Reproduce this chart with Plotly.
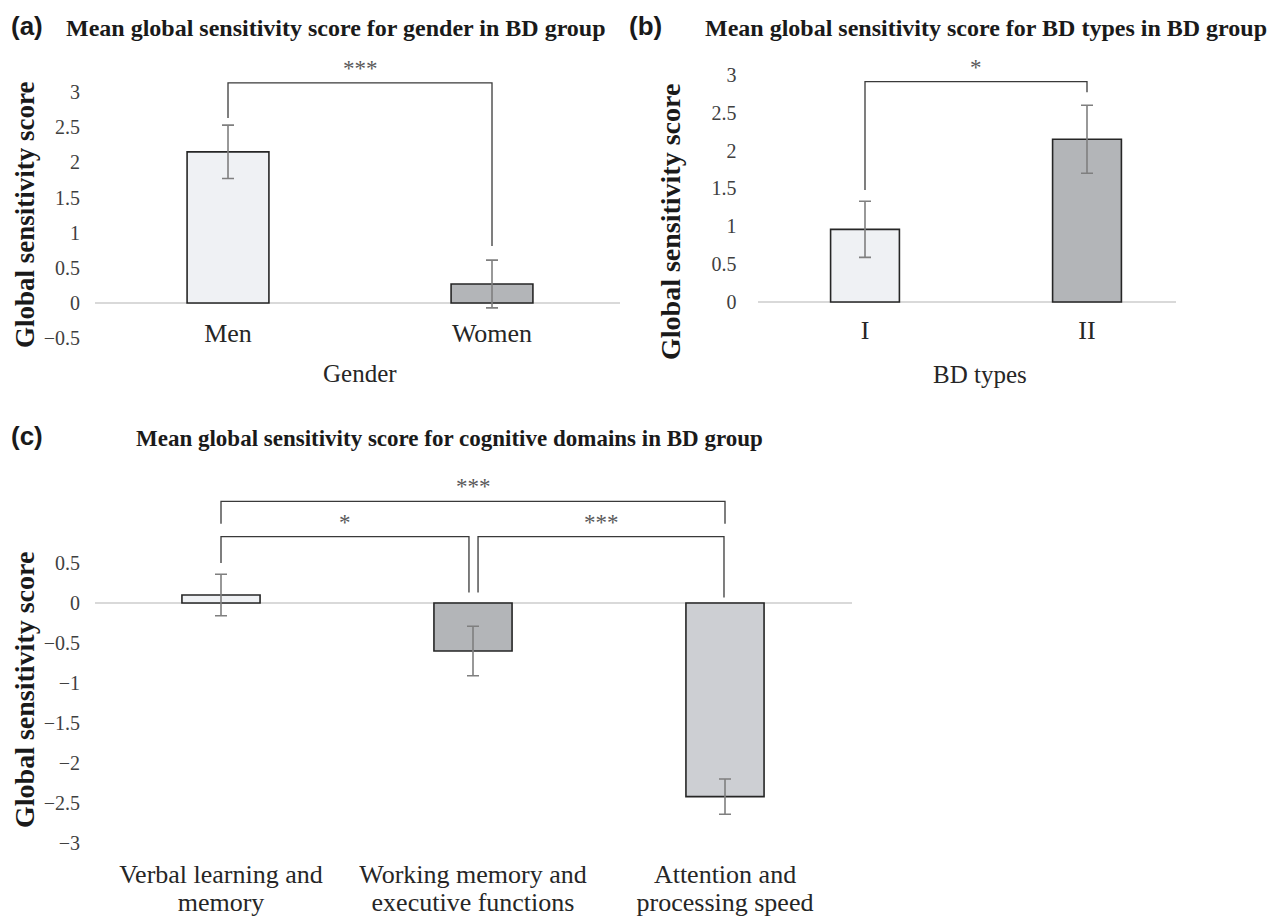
import plotly.graph_objects as go

W, H = 1276, 920

# ---------------- data ----------------
gender_cats = ["Men", "Women"]
gender_mean = [2.15, 0.27]
gender_err = [0.38, 0.34]

type_cats = ["I", "II"]
type_mean = [0.96, 2.15]
type_err = [0.37, 0.45]

domain_cats = ["Verbal learning and<br>memory",
               "Working memory and<br>executive functions",
               "Attention and<br>processing speed"]
domain_mean = [0.10, -0.60, -2.42]
domain_err = [0.26, 0.31, 0.22]

# significance brackets: (x_left, x_right, y_top, y_left_leg_end, y_right_leg_end, label)
brackets_a = [(0, 1, 3.13, 2.63, 0.81, "***")]
brackets_b = [(0, 1, 2.91, 1.48, 2.77, "*")]
brackets_c = [(0, 2, 1.27, 0.99, 0.99, "***"),
              (0, 0.984, 0.83, 0.50, 0.13, "*"),
              (1.02, 1.996, 0.83, 0.13, 0.07, "***")]

y_ticks_a = [-0.5, 0, 0.5, 1, 1.5, 2, 2.5, 3]
y_ticks_b = [0, 0.5, 1, 1.5, 2, 2.5, 3]
y_ticks_c = [-3, -2.5, -2, -1.5, -1, -0.5, 0, 0.5]

# ---------------- styling ----------------
LIGHT = "#eff1f4"
DARK = "#b3b5b8"
MID = "#cdcfd3"
SERIF = "Liberation Serif, Times New Roman, serif"
SANS = "Liberation Sans, Arial, sans-serif"
TXT = "#262626"
TICK = "#404040"


def fx(px):
    return px / W


def fy(py):
    return 1 - py / H


def xdom(c0_px, ppu, lo, hi):
    return [fx(c0_px + lo * ppu), fx(c0_px + hi * ppu)]


def ydom(zero_px, ppu, lo, hi):
    return [fy(zero_px - lo * ppu), fy(zero_px - hi * ppu)]


fig = go.Figure()

panels = [
    dict(cats=gender_cats, mean=gender_mean, err=gender_err, colors=[LIGHT, DARK],
         br=brackets_a, xa="x", ya="y"),
    dict(cats=type_cats, mean=type_mean, err=type_err, colors=[LIGHT, DARK],
         br=brackets_b, xa="x2", ya="y2"),
    dict(cats=domain_cats, mean=domain_mean, err=domain_err, colors=[LIGHT, DARK, MID],
         br=brackets_c, xa="x3", ya="y3"),
]

annotations = []
for p in panels:
    xs = list(range(len(p["cats"])))
    fig.add_trace(go.Bar(
        x=xs, y=p["mean"], width=0.31,
        marker=dict(color=p["colors"], line=dict(color=TXT, width=1.6)),
        error_y=dict(type="data", array=p["err"], visible=True,
                     color="#7f7f7f", thickness=1.6, width=6),
        xaxis=p["xa"], yaxis=p["ya"], showlegend=False, hoverinfo="skip",
    ))
    for (x0, x1, yt, yl, yr, lab) in p["br"]:
        fig.add_trace(go.Scatter(
            x=[x0, x0, x1, x1], y=[yl, yt, yt, yr], mode="lines",
            line=dict(color="#3a3a3a", width=1.3), cliponaxis=False,
            xaxis=p["xa"], yaxis=p["ya"], showlegend=False, hoverinfo="skip",
        ))
        annotations.append(dict(
            x=(x0 + x1) / 2, y=yt, xref=p["xa"], yref=p["ya"], text=lab,
            showarrow=False, yanchor="bottom", yshift=0,
            font=dict(family=SERIF, size=23, color="#595959"),
        ))

# panel (c) category labels: first line on x3, second line on an overlaid axis x4
line1 = [c.split("<br>")[0] for c in domain_cats]
line2 = [c.split("<br>")[1] for c in domain_cats]
fig.add_trace(go.Scatter(
    x=list(range(len(domain_cats))), y=domain_mean, mode="markers",
    marker=dict(opacity=0, size=1), xaxis="x4", yaxis="y3",
    showlegend=False, hoverinfo="skip",
))

# ---------------- axes ----------------
def xaxis_cfg(dom, rng, cats, pos_px, size):
    return dict(domain=dom, range=rng, tickmode="array", tickvals=list(range(len(cats))),
                ticktext=cats, showgrid=False, zeroline=False, showline=False,
                ticks="", anchor="free", position=fy(pos_px), automargin=False,
                tickfont=dict(family=SERIF, size=size, color=TXT), fixedrange=True)


def yaxis_cfg(dom, rng, ticks, anchor, standoff):
    return dict(domain=dom, range=rng, tickmode="array", tickvals=ticks,
                ticktext=[("\u2212" if t < 0 else "") + ("%g" % abs(t)) for t in ticks],
                showgrid=False, zeroline=True, zerolinecolor="#d9d9d9", zerolinewidth=1.6,
                showline=False, ticks="", anchor=anchor, ticklabelstandoff=standoff,
                automargin=False,
                tickfont=dict(family=SERIF, size=20, color=TICK), fixedrange=True)


dom_c = xdom(221, 252, -0.5, 2.504)
x4 = xaxis_cfg(dom_c, [-0.5, 2.504], line2, 884, 26)
x4["overlaying"] = "x3"

fig.update_layout(
    xaxis=xaxis_cfg(xdom(228, 264, -0.504, 1.485), [-0.504, 1.485], gender_cats, 315, 26),
    yaxis=yaxis_cfg(ydom(303, 70.3, -0.55, 3.3), [-0.55, 3.3], y_ticks_a, "x", 14),
    xaxis2=xaxis_cfg(xdom(865, 222, -0.48, 1.40), [-0.48, 1.40], type_cats, 312, 26),
    yaxis2=yaxis_cfg(ydom(302, 75.7, -0.12, 3.1), [-0.12, 3.1], y_ticks_b, "x2", 21),
    xaxis3=xaxis_cfg(dom_c, [-0.5, 2.504], line1, 856, 26),
    xaxis4=x4,
    yaxis3=yaxis_cfg(ydom(603, 80, -3.25, 1.4), [-3.25, 1.4], y_ticks_c, "x3", 14),
)

# ---------------- text: panel labels, titles, axis titles ----------------
def paper_text(x_px, y_px, text, size, family, xanchor="left", angle=0, bold=False, color=TXT):
    annotations.append(dict(
        x=fx(x_px), y=fy(y_px), xref="paper", yref="paper",
        text=("<b>%s</b>" % text) if bold else text, showarrow=False,
        xanchor=xanchor, yanchor="middle", textangle=angle,
        font=dict(family=family, size=size, color=color),
    ))


paper_text(9, 26, "(a)", 26, SANS, bold=True, color="#1a1a1a")
paper_text(64, 28, "Mean global sensitivity score for gender in BD group", 24, SERIF, bold=True, color="#1a1a1a")
paper_text(627, 26, "(b)", 26, SANS, bold=True, color="#1a1a1a")
paper_text(703, 28, "Mean global sensitivity score for BD types in BD group", 24, SERIF, bold=True, color="#1a1a1a")
paper_text(9, 436, "(c)", 26, SANS, bold=True, color="#1a1a1a")
paper_text(134, 439, "Mean global sensitivity score for cognitive domains in BD group", 23, SERIF, bold=True, color="#1a1a1a")

paper_text(25, 215, "Global sensitivity score", 27, SERIF, xanchor="center", angle=-90, bold=True, color="#1a1a1a")
paper_text(670, 222, "Global sensitivity score", 28, SERIF, xanchor="center", angle=-90, bold=True, color="#1a1a1a")
paper_text(24, 690, "Global sensitivity score", 28, SERIF, xanchor="center", angle=-90, bold=True, color="#1a1a1a")

paper_text(360, 373, "Gender", 25, SERIF, xanchor="center")
paper_text(980, 375, "BD types", 25, SERIF, xanchor="center")

fig.update_layout(
    width=W, height=H, margin=dict(l=0, r=0, t=0, b=0, autoexpand=False),
    paper_bgcolor="white", plot_bgcolor="white",
    annotations=annotations, showlegend=False,
)

fig.write_html("out.html", config={"displayModeBar": False},
               post_script="document.body.style.margin='0';document.body.style.overflow='hidden';")
